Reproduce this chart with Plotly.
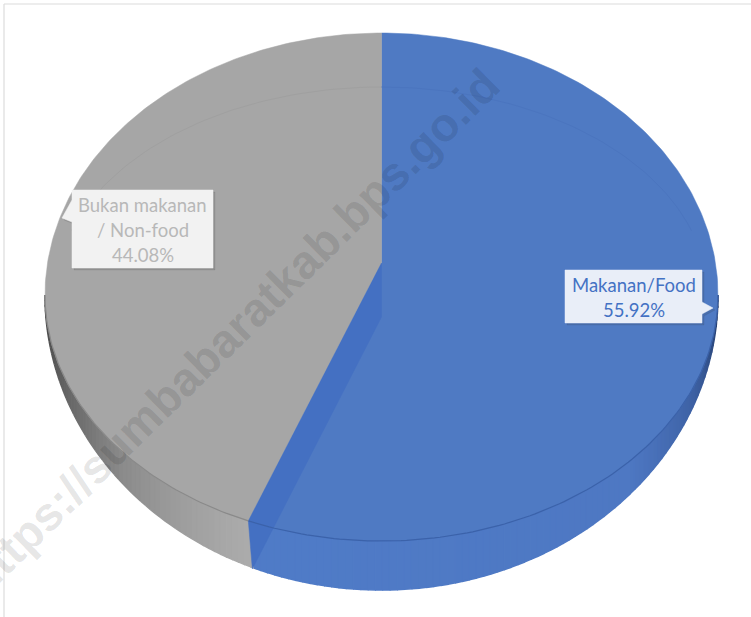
import numpy as np
import plotly.graph_objects as go

categories = ["Makanan/Food", "Bukan makanan / Non-food"]
shares = [55.92, 44.08]
label_lines = [["Makanan/Food"], ["Bukan makanan", "/ Non-food"]]
watermark = "https://sumbabaratkab.bps.go.id"

W, H = 751, 617
CX, CY, RX = 381.5, 295.0, 336.5
RY_UP, RY_LOW, RY_OUT = 262.0, 246.0, 295.0
APEX_Y, APEX_DROP = 263.0, 54.0
SKEW = 2.0
split = 360 * shares[0] / sum(shares) + SKEW

BLUE_TOP, BLUE_WEDGE, BLUE_RIM = "#4f7ac3", "#4470c2", "#3b62aa"
GRAY_TOP, GRAY_RIM = "#a6a6a6", "#8a8a8a"


def rim(t):
    t = np.radians(np.asarray(t, dtype=float))
    c = np.cos(t)
    return CX + RX * np.sin(t), CY - np.where(c > 0, RY_UP, RY_LOW) * c


def outer(t):
    t = np.radians(np.asarray(t, dtype=float))
    return CX + RX * np.sin(t), CY - RY_OUT * np.cos(t)


fig = go.Figure()


def poly(xs, ys, color, lw=0.5):
    fig.add_trace(go.Scatter(x=list(xs), y=list(ys), mode="lines", fill="toself",
                             fillcolor=color, line=dict(color=color, width=lw),
                             hoverinfo="skip", showlegend=False))


def stroke(xs, ys, color, width=1.0):
    fig.add_trace(go.Scatter(x=list(xs), y=list(ys), mode="lines",
                             line=dict(color=color, width=width),
                             hoverinfo="skip", showlegend=False))


def mix(stops, f):
    ps = [s[0] for s in stops]
    vals = [np.interp(f, ps, [s[1][i] for s in stops]) for i in range(3)]
    return "rgb(%d,%d,%d)" % tuple(vals)


gray_side = [(0, (70, 70, 70)), (0.2, (88, 88, 88)), (0.42, (115, 115, 115)), (0.6, (140, 140, 140)), (0.85, (162, 162, 162)), (1, (172, 172, 172))]
blue_side = [(0, (80, 124, 200)), (0.62, (78, 120, 195)), (0.8, (62, 98, 165)), (0.93, (44, 72, 125)), (1, (28, 46, 85))]

# side wall, built from segments so that it can be shaded
edges = np.linspace(270, split - 1.5, 61)
for a, b in zip(edges[:-1], edges[1:]):
    f = (270 - (a + b) / 2) / (270 - split)
    ta = np.linspace(a, b, 3)
    xr, yr = rim(ta)
    xo, yo = outer(ta)
    poly(np.r_[xr, xo[::-1]], np.r_[yr, yo[::-1]], mix(gray_side, f), 1.6)

start = split - 1.0
edges = np.linspace(start, 90, 91)
for a, b in zip(edges[:-1], edges[1:]):
    f = (start - (a + b) / 2) / (start - 90)
    ta = np.linspace(a, b, 3)
    xr, yr = rim(ta)
    xo, yo = outer(ta)
    poly(np.r_[xr, xo[::-1]], np.r_[yr, yo[::-1]], mix(blue_side, f), 1.6)

# top faces
t_blue = np.linspace(0, split, 240)
t_gray = np.linspace(split, 360, 200)
xb, yb = rim(t_blue)
xg, yg = rim(t_gray)
poly(np.r_[CX, xb, CX], np.r_[APEX_Y, yb, APEX_Y], BLUE_TOP)
poly(np.r_[CX, xg, CX], np.r_[APEX_Y, yg, APEX_Y], GRAY_TOP)

# cut face seen through the blue slice
sx, sy = rim(split)
ox, oy = sx + 4, sy + 48
poly([CX, sx, ox, CX, CX], [APEX_Y, sy, oy, APEX_Y + APEX_DROP, APEX_Y], BLUE_WEDGE)

# rim edges and bevel
stroke(*rim(np.linspace(90, split, 120)), BLUE_RIM, 1.2)
stroke(*rim(np.linspace(split, 270, 80)), GRAY_RIM, 1.2)
t_in = np.radians(np.linspace(-72, 0, 60))
stroke(CX + 326 * np.sin(t_in), CY - 208 * np.cos(t_in), "#a0a0a0", 1)
t_in = np.radians(np.linspace(0, 72, 60))
stroke(CX + 326 * np.sin(t_in), CY - 208 * np.cos(t_in), "#4b75bf", 1)

# frame
stroke([4, 4, None, 4, W], [H, 4, None, 4, 4], "#dcdcdc", 1.2)


def callout(x0, x1, y0, y1, tip, base, side, fill):
    if side == "r":
        xs = [x0, x1, x1, tip[0], x1, x1, x0, x0]
        ys = [y0, y0, base[0], tip[1], base[1], y1, y1, y0]
    else:
        xs = [x0, x1, x1, x0, x0, tip[0], x0, x0]
        ys = [y0, y0, y1, y1, base[1], tip[1], base[0], y0]
    poly(np.array(xs) + 2, np.array(ys) + 2, "rgba(40,40,40,0.14)")
    poly(xs, ys, fill)


callout(565, 702, 270, 323, (713, 308), (302, 314), "r", "#e9eef8")
callout(72, 213, 190, 268, (62, 218), (200, 222), "l", "#f2f2f2")

annotations = [dict(x=232, y=331, text=f"<b>{watermark}</b>", textangle=-44.5, showarrow=False,
                    font=dict(family="Liberation Sans", size=47, color="rgba(0,0,0,0.11)"),
                    xref="x", yref="y")]


def label(cx, y0, lines, color):
    for i, line in enumerate(lines):
        annotations.append(dict(x=cx, y=y0 + 25 * i, text=line, showarrow=False, xref="x", yref="y",
                                font=dict(family="Lato", size=18.5, color=color)))


label(634, 285, label_lines[0] + [f"{shares[0]:.2f}%"], "#4472c4")
label(142.5, 205, label_lines[1] + [f"{shares[1]:.2f}%"], "#b8b8b8")

fig.update_layout(width=W, height=H, margin=dict(l=0, r=0, t=0, b=0),
                  paper_bgcolor="white", plot_bgcolor="white", showlegend=False,
                  annotations=annotations,
                  xaxis=dict(range=[0, W], visible=False, fixedrange=True),
                  yaxis=dict(range=[H, 0], visible=False, fixedrange=True))
fig.write_html("out.html", config=dict(displayModeBar=False),
               post_script="document.body.style.margin='0';document.body.style.overflow='hidden';")
